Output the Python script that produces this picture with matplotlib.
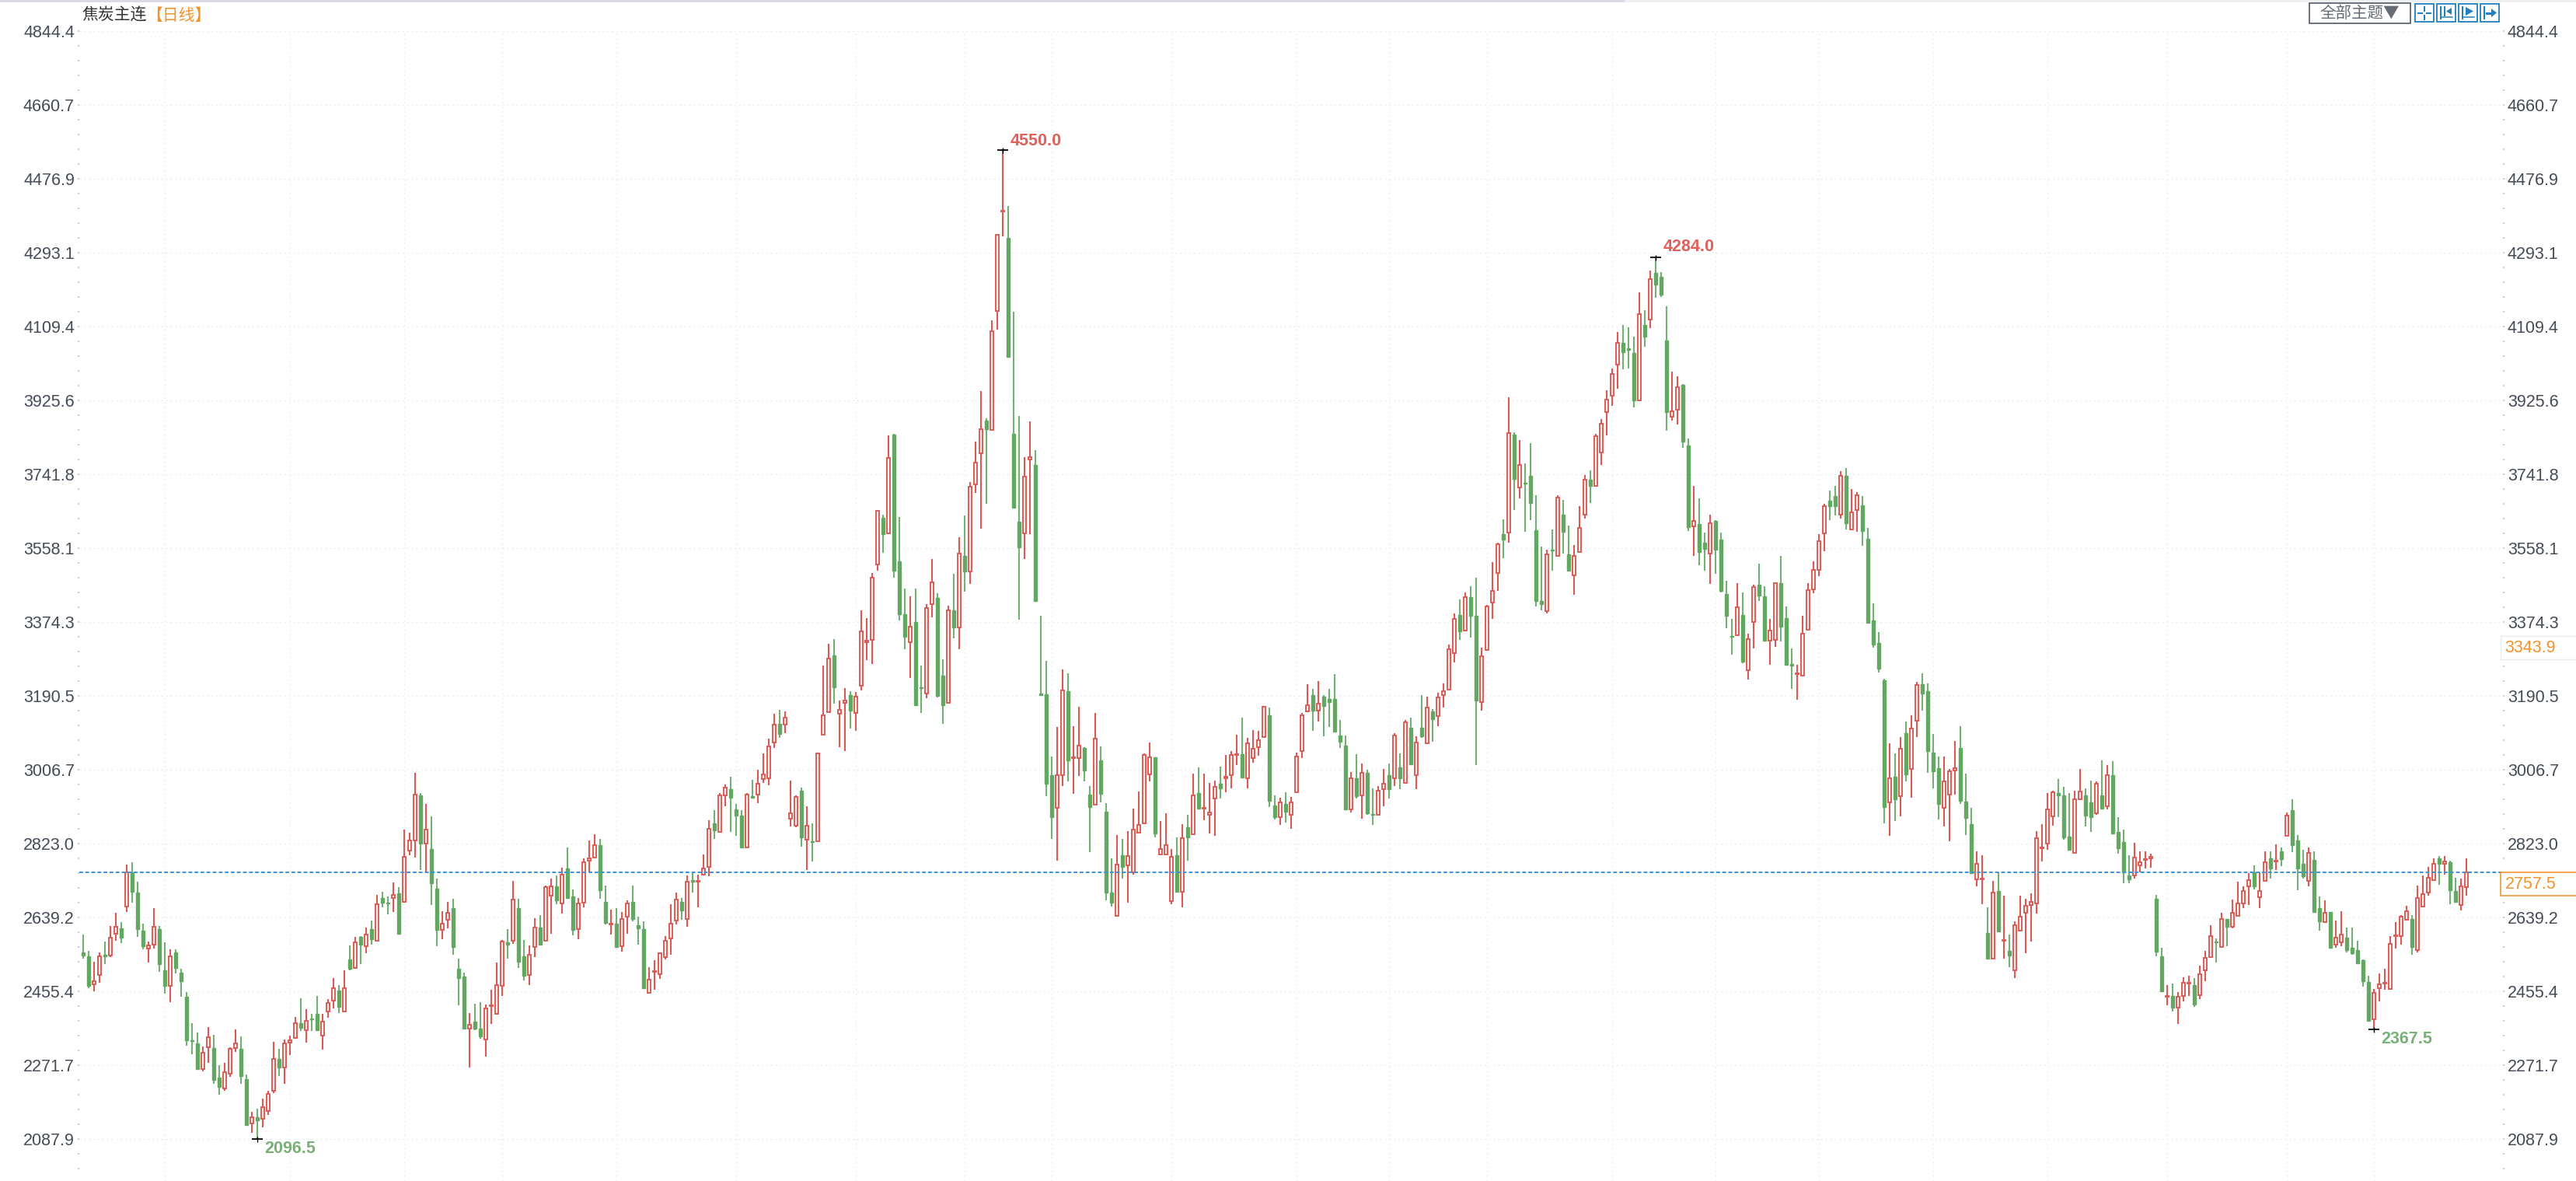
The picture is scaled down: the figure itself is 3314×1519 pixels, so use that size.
import numpy as np
import matplotlib
matplotlib.use("Agg")
import matplotlib.pyplot as plt
from matplotlib.patches import Rectangle, Polygon

plt.rcParams['font.family'] = ['Liberation Sans', 'Noto Sans CJK SC', 'DejaVu Sans']

title_name = "焦炭主连"
title_period = "【日线】"
theme_button = "全部主题▼"

tick_labels = ["4844.4", "4660.7", "4476.9", "4293.1", "4109.4", "3925.6", "3741.8", "3558.1",
               "3374.3", "3190.5", "3006.7", "2823.0", "2639.2", "2455.4", "2271.7", "2087.9"]

directions = ("GGRRGRRGRG" "GGRRGGRGGG" "GGRRGGRRRG" "GRGRRRGRRR" "GRGGRRRGRG" "RGRGRGGRGR"
              "RRGRGGRRGG" "GRGGRRRRGR" "GGRRGRRGRG" "GRRRRGGRGR" "RGGGRRRRRR" "GRGRRRGRRG"
              "GGRGRRRRGR" "RRGRGRRRGR" "RGRRRRRGRG" "GGRGGRRGGR" "GRGRRRGRRR" "GGGRRGGGGR"
              "RGRRGGRGGG" "RGRRRRRGRR" "RGRGRGRRRG" "RRRGRRRRGG" "RGRRRRGRGG" "GGGRGRGGRR"
              "GRGRGRGRGR" "RRRGRGGRRR" "RGRGRGGGGR" "GRGGRRRGRR" "RRRGGGRGRG" "GGRRGGRGGR"
              "GGGGRGRRGG" "RRGGGRRRRR" "RGGRGRRGGG" "GGRGRGRRGG" "GGRRRGGGRR" "GRGRGRRRRR"
              "RRRGGGRRGG" "RGRGGGGRRR" "RGGRGRRRGR" "RRGRGRRRRG" "RRGRGRGGGR" "GGRGRRGGGG"
              "GRRRRRRRGR" "RRRGRGGRR")

high = [
    2603,2563,2536,2558,2586,2624,2657,2634,2776,2783,
    2735,2630,2585,2668,2624,2583,2567,2567,2519,2461,
    2384,2360,2326,2374,2354,2279,2285,2323,2368,2350,
    2255,2163,2171,2197,2215,2337,2320,2343,2352,2398,
    2445,2418,2407,2451,2407,2443,2495,2477,2515,2576,
    2597,2600,2620,2637,2701,2710,2698,2732,2720,2863,
    2856,3005,2955,2927,2897,2742,2662,2684,2692,2543,
    2509,2409,2432,2435,2430,2466,2533,2589,2617,2736,
    2692,2590,2576,2644,2651,2724,2742,2749,2769,2819,
    2715,2694,2792,2837,2853,2840,2725,2665,2668,2659,
    2688,2725,2647,2636,2522,2540,2559,2599,2678,2708,
    2694,2749,2758,2752,2802,2887,2911,2954,2975,2995,
    2927,2911,2954,2988,3012,3053,3089,3151,3161,3157,
    2985,2949,2967,2921,2880,3055,3270,3324,3337,3184,
    3215,3208,3206,3407,3388,3501,3655,3646,3841,3845,
    3639,3462,3442,3462,3270,3424,3535,3450,3286,3419,
    3499,3590,3644,3727,3826,3952,3885,4128,4341,4550,
    4412,4149,3890,3788,3877,3806,3395,3282,3046,3118,
    3262,3252,3120,3168,3069,2972,3154,3070,2929,2792,
    2850,2840,2859,2915,2959,3052,3080,3044,2884,2904,
    2816,2844,2877,2901,3003,3019,3003,2979,2985,3020,
    3049,3059,3100,3141,3091,3111,3108,3171,3167,2948,
    2942,2956,2945,3054,3154,3225,3212,3232,3198,3212,
    3249,3135,3097,3006,3050,3027,3012,2965,2972,3015,
    3027,3102,3053,3136,3141,3096,3198,3194,3163,3203,
    3227,3322,3400,3434,3453,3467,3488,3315,3422,3528,
    3576,3633,3936,3849,3830,3773,3823,3694,3566,3559,
    3609,3693,3681,3619,3569,3667,3744,3755,3845,3883,
    3953,4008,4099,4116,4110,4086,4197,4152,4251,4284,
    4248,4163,4001,3989,3969,3835,3717,3686,3600,3646,
    3632,3600,3482,3387,3475,3453,3350,3471,3523,3468,
    3387,3477,3542,3418,3313,3273,3394,3475,3530,3596,
    3673,3705,3716,3753,3760,3708,3701,3691,3613,3425,
    3353,3238,3077,3053,3094,3131,3148,3230,3251,3226,
    3101,3046,3045,3014,3083,3120,3003,2918,2810,2800,
    2671,2736,2758,2699,2604,2636,2699,2692,2705,2860,
    2877,2954,2961,2990,2969,2954,2961,3015,2965,2985,
    2983,3036,3023,3033,2895,2864,2800,2830,2810,2810,
    2803,2702,2570,2478,2482,2461,2498,2501,2495,2527,
    2562,2626,2593,2657,2642,2691,2734,2722,2755,2774,
    2758,2810,2810,2827,2819,2907,2938,2850,2813,2819,
    2810,2698,2688,2660,2637,2662,2620,2620,2587,2541,
    2501,2468,2506,2519,2599,2634,2652,2675,2651,2724,
    2749,2772,2792,2799,2799,2786,2744,2742,2792]

body_top = [
    2559,2550,2488,2549,2553,2595,2622,2619,2758,2758,
    2707,2613,2576,2622,2617,2514,2549,2559,2509,2448,
    2341,2333,2310,2349,2322,2248,2262,2320,2333,2320,
    2245,2150,2150,2174,2208,2295,2295,2333,2340,2383,
    2383,2389,2394,2407,2387,2434,2471,2465,2471,2542,
    2583,2597,2603,2617,2678,2693,2683,2701,2705,2796,
    2836,2951,2949,2863,2815,2718,2630,2657,2668,2519,
    2499,2380,2387,2369,2419,2428,2478,2585,2583,2691,
    2668,2549,2553,2620,2620,2720,2722,2722,2752,2768,
    2697,2681,2782,2792,2826,2826,2684,2631,2630,2641,
    2681,2684,2626,2617,2491,2512,2557,2587,2630,2691,
    2684,2734,2738,2736,2768,2866,2880,2948,2967,2964,
    2914,2898,2951,2947,2978,3001,3071,3124,3127,3142,
    2904,2945,2961,2873,2835,3052,3147,3289,3296,3161,
    3184,3198,3194,3355,3332,3489,3654,3637,3786,3843,
    3530,3398,3368,3378,3217,3414,3478,3439,3245,3407,
    3407,3548,3543,3715,3775,3858,3878,4101,4340,4400,
    4332,3845,3627,3739,3788,3769,3201,3199,2999,2999,
    3210,3208,3043,3072,3066,2951,3090,3036,2908,2708,
    2776,2800,2799,2863,2876,3049,3043,3043,2815,2826,
    2797,2800,2843,2870,2948,2954,2918,2907,2969,2978,
    2994,3049,3051,3050,3077,3065,3086,3169,3147,2924,
    2932,2927,2931,3046,3147,3173,3198,3176,3194,3187,
    3188,3097,3072,2992,2992,3005,3005,2903,2961,2977,
    2998,3097,3019,3129,3117,3079,3117,3167,3157,3192,
    3207,3312,3387,3396,3441,3441,3394,3293,3417,3456,
    3571,3597,3847,3843,3768,3725,3742,3607,3430,3547,
    3559,3688,3646,3547,3542,3612,3731,3731,3840,3871,
    3931,3995,4072,4072,4058,4046,4142,4116,4230,4245,
    4235,4078,3902,3962,3967,3816,3629,3622,3576,3624,
    3629,3583,3448,3345,3415,3396,3336,3465,3471,3443,
    3357,3475,3475,3388,3275,3251,3350,3458,3508,3579,
    3667,3680,3691,3742,3742,3650,3694,3669,3586,3383,
    3326,3234,2991,2995,3065,3103,3115,3223,3224,3208,
    3055,3017,2984,3008,3017,3066,2934,2877,2779,2742,
    2607,2708,2712,2590,2563,2626,2648,2675,2684,2843,
    2819,2914,2956,2954,2948,2847,2938,2958,2948,2931,
    2978,2948,2999,2999,2857,2833,2749,2795,2782,2790,
    2796,2692,2550,2451,2451,2448,2483,2484,2478,2505,
    2546,2599,2586,2641,2641,2657,2681,2712,2738,2758,
    2711,2782,2792,2786,2810,2898,2911,2837,2779,2806,
    2788,2668,2657,2659,2596,2603,2596,2570,2565,2540,
    2485,2458,2479,2484,2580,2601,2648,2661,2641,2694,
    2704,2745,2779,2792,2785,2783,2711,2722,2757.5]

body_bottom = [
    2551,2475,2480,2502,2550,2551,2606,2595,2673,2710,
    2616,2574,2568,2578,2530,2476,2476,2521,2487,2341,
    2338,2269,2269,2324,2243,2226,2221,2257,2321,2253,
    2131,2134,2142,2146,2165,2215,2274,2274,2335,2346,
    2372,2365,2392,2365,2353,2412,2439,2423,2412,2519,
    2521,2578,2575,2592,2588,2682,2681,2693,2605,2685,
    2812,2836,2829,2829,2731,2615,2615,2639,2572,2495,
    2370,2369,2370,2351,2342,2426,2406,2475,2578,2587,
    2535,2501,2502,2573,2578,2588,2700,2689,2680,2694,
    2615,2617,2683,2787,2795,2713,2632,2628,2572,2575,
    2647,2641,2619,2471,2459,2510,2504,2547,2593,2638,
    2663,2642,2734,2734,2751,2771,2861,2858,2949,2943,
    2898,2819,2819,2943,2950,2990,2991,3079,3101,3124,
    2891,2874,2845,2839,2832,2835,3099,3156,3217,3151,
    3178,3159,3153,3220,3329,3334,3521,3596,3599,3506,
    3398,3343,3329,3173,3215,3201,3424,3196,3173,3178,
    3365,3366,3504,3504,3720,3798,3858,3855,4151,4397,
    4037,3663,3565,3599,3782,3430,3198,2977,2895,2917,
    2998,3035,3041,3041,3011,2919,2925,2953,2707,2682,
    2650,2771,2774,2758,2856,2879,3001,2855,2801,2802,
    2686,2710,2710,2845,2853,2915,2916,2900,2940,2966,
    2991,2998,3048,2993,2991,3041,3068,3093,2936,2895,
    2895,2909,2900,2957,3059,3157,3159,3159,3170,3180,
    3106,3081,2913,2913,2947,2948,2905,2900,2900,2964,
    2964,2992,2991,2980,3025,2998,3096,3078,3138,3146,
    3197,3211,3302,3355,3357,3394,3184,3180,3309,3427,
    3501,3584,3600,3734,3712,3722,3675,3430,3424,3405,
    3556,3542,3603,3507,3494,3552,3646,3717,3717,3799,
    3899,3941,4017,4048,4055,3929,3928,4087,4130,4216,
    4192,3899,3888,3905,3827,3614,3616,3552,3561,3549,
    3559,3456,3395,3343,3347,3280,3260,3379,3445,3332,
    3332,3335,3368,3273,3271,3250,3245,3359,3460,3508,
    3599,3667,3667,3646,3624,3609,3656,3605,3376,3323,
    3264,2920,2931,2939,2947,3000,3015,3133,3202,3058,
    3008,2927,2917,2950,3010,2935,2892,2756,2740,2740,
    2544,2544,2610,2588,2551,2515,2612,2657,2677,2680,
    2817,2829,2897,2949,2845,2814,2805,2938,2899,2895,
    2905,2916,2922,2855,2817,2758,2740,2750,2774,2788,
    2792,2561,2462,2449,2422,2422,2450,2482,2430,2453,
    2514,2548,2583,2572,2623,2622,2650,2680,2723,2723,
    2696,2737,2767,2785,2790,2848,2825,2767,2747,2737,
    2660,2636,2634,2570,2578,2583,2564,2557,2532,2487,
    2390,2393,2470,2482,2469,2599,2599,2639,2572,2565,
    2673,2707,2739,2778,2779,2713,2684,2676,2720]

low = [
    2544,2470,2462,2484,2530,2548,2588,2582,2659,2683,
    2598,2567,2533,2568,2511,2456,2436,2507,2449,2328,
    2307,2267,2263,2284,2233,2206,2216,2250,2311,2233,
    2128,2111,2096.5,2125,2155,2209,2253,2233,2304,2345,
    2364,2335,2364,2364,2318,2396,2419,2409,2412,2514,
    2521,2530,2557,2578,2588,2670,2653,2659,2605,2683,
    2800,2794,2763,2758,2676,2575,2591,2619,2554,2427,
    2369,2274,2366,2345,2301,2382,2405,2450,2544,2581,
    2520,2490,2477,2548,2578,2588,2605,2678,2655,2692,
    2602,2591,2670,2758,2794,2692,2629,2604,2572,2561,
    2605,2636,2578,2470,2457,2467,2493,2541,2554,2628,
    2639,2622,2707,2670,2749,2747,2841,2858,2922,2858,
    2848,2818,2818,2943,2929,2979,2974,3067,3091,3102,
    2871,2869,2821,2763,2784,2835,3099,3156,3176,3068,
    3058,3115,3109,3210,3284,3275,3506,3550,3597,3489,
    3383,3312,3240,3171,3153,3189,3390,3191,3127,3176,
    3338,3312,3454,3473,3700,3611,3673,3855,4104,4335,
    4037,3661,3385,3535,3596,3430,3198,2947,2841,2787,
    2971,2983,2953,2996,2983,2808,2925,2932,2689,2673,
    2650,2742,2682,2752,2856,2879,2983,2845,2801,2802,
    2679,2710,2670,2787,2852,2913,2886,2855,2848,2940,
    2956,2966,3024,2992,2966,3030,3047,3091,2919,2888,
    2875,2882,2866,2956,3041,3155,3109,3131,3095,3118,
    3104,3067,2913,2906,2940,2890,2900,2876,2900,2922,
    2940,2971,2964,2980,3024,2964,3091,3078,3082,3120,
    3166,3209,3278,3334,3355,3341,3024,3158,3307,3386,
    3456,3537,3576,3656,3686,3602,3632,3417,3408,3401,
    3507,3542,3549,3504,3446,3552,3636,3675,3717,3768,
    3842,3915,3957,4005,4008,3912,3928,4061,4109,4183,
    4185,3854,3878,3869,3811,3605,3542,3520,3507,3473,
    3499,3453,3363,3298,3344,3276,3237,3314,3430,3332,
    3273,3318,3331,3273,3213,3185,3245,3359,3450,3493,
    3555,3632,3643,3636,3609,3606,3602,3568,3375,3316,
    3253,2879,2848,2885,2896,2983,2943,3094,3158,3004,
    2966,2888,2871,2834,2950,2928,2851,2754,2723,2679,
    2544,2544,2610,2544,2523,2496,2612,2557,2585,2655,
    2784,2814,2874,2895,2839,2814,2805,2938,2872,2858,
    2900,2916,2913,2855,2803,2731,2731,2743,2757,2768,
    2770,2550,2460,2428,2413,2382,2437,2450,2424,2443,
    2487,2548,2534,2572,2575,2618,2649,2669,2677,2716,
    2668,2737,2743,2763,2773,2848,2808,2713,2743,2723,
    2660,2612,2633,2570,2570,2575,2558,2554,2532,2474,
    2388,2367.5,2437,2466,2467,2569,2578,2637,2554,2559,
    2673,2700,2737,2726,2751,2679,2684,2663,2700]

last_price = 2757.5
last_label = "2757.5"
side_label_value = 3343.9
side_label = "3343.9"
grid_candles = [-1, 15, 38, 59, 77, 98, 120, 142, 162, 178, 200, 223, 240, 258, 281, 300, 319, 340, 361, 383, 405, 421]
extremes = [(169, 4550.0, "4550.0", "#E0605C", 9, 12),
            (289, 4284.0, "4284.0", "#E0605C", 9, 13),
            (32, 2096.5, "2096.5", "#78B078", 9, -13),
            (421, 2367.5, "2367.5", "#78B078", 9, -12)]

W, H = 3314, 1519
RED, RED_FILL, GREEN, GREEN_WICK = "#DB5A55", "#FFF1EC", "#62A862", "#74B074"
LABEL = "#454B57"
ORANGE = "#F2922B"
BLUE = "#3F93D6"
px = 72 / 100.0

# Axis geometry: candle slots are 7 px wide; price scale is 0.5183 px per unit
X0, STEP = 107.3, 7.0
L, R = 102, 3220
PRICE_AT_TOP, PRICE_AT_BOTTOM = 4922.4, 1991.6

fig = plt.figure(figsize=(W / 100, H / 100), dpi=100, facecolor="white")
ax = fig.add_axes([L / W, 0, (R - L) / W, 1])
ax.set_xlim((L - X0) / STEP, (R - X0) / STEP)
ax.set_ylim(PRICE_AT_BOTTOM, PRICE_AT_TOP)
ax.set_facecolor("white")
for s in ax.spines.values():
    s.set_visible(False)

high, low = np.array(high, float), np.array(low, float)
body_top, body_bottom = np.array(body_top, float), np.array(body_bottom, float)
idx = np.arange(len(high))
is_up = np.array([d == "R" for d in directions])

# grid
tick_pos = np.linspace(4845.2, 2095.9, len(tick_labels))
minor_step = (tick_pos[0] - tick_pos[1]) / 5
minor_pos = tick_pos[-1] + minor_step * np.arange(-5, 81)
minor_pos = minor_pos[(minor_pos < tick_pos[0]) & (minor_pos > PRICE_AT_BOTTOM)]
ax.hlines(tick_pos, ax.get_xlim()[0], ax.get_xlim()[1], colors="#E9EBEF", lw=1.3 * px,
          linestyles=(0, (1.5, 3)), zorder=1)
ax.vlines(grid_candles, PRICE_AT_BOTTOM, tick_pos[0], colors="#ECEEF1", lw=1.3 * px,
          linestyles=(0, (1.5, 3)), zorder=1)

# axis ticks
ax.set_xticks([])
ax.set_yticks(tick_pos, tick_labels)
ax.set_yticks(minor_pos, minor=True)
ax.tick_params(axis="y", which="both", left=True, right=True, labelleft=True, labelright=True,
               length=2 * px, width=1.5 * px, color="#BDBFC5", pad=4 * px)
ax.tick_params(axis="y", which="major", labelsize=15.5, labelcolor=LABEL)

# candles
ax.vlines(idx[~is_up], low[~is_up], high[~is_up], colors=GREEN_WICK, lw=2.1 * px, zorder=3)
ax.vlines(idx[is_up], low[is_up], high[is_up], colors=RED, lw=2.1 * px, zorder=3)
ax.bar(idx[~is_up], (body_top - body_bottom)[~is_up], bottom=body_bottom[~is_up], width=0.62,
       color=GREEN, edgecolor=GREEN, lw=1.4 * px, zorder=4)
ax.bar(idx[is_up], (body_top - body_bottom)[is_up], bottom=body_bottom[is_up], width=0.62,
       color=RED_FILL, edgecolor=RED, lw=1.9 * px, zorder=4)

# last price line
ax.axhline(last_price, color=BLUE, lw=2.0 * px, linestyle=(0, (2.4, 1.5)), zorder=5)

# extreme markers and labels
for i, v, txt, col, dx, dy in extremes:
    ax.plot([i], [v], marker="_", ms=14 * px, mew=1.8 * px, color="black", zorder=6)
    ax.plot([i], [v], marker="|", ms=7 * px, mew=1.4 * px, color="black", zorder=6)
    ax.annotate(txt, (i, v), xytext=(dx * px, dy * px), textcoords="offset points", color=col,
                fontsize=15.5, fontweight="bold", va="center", ha="left", zorder=7)

# page chrome in pixel coordinates
ov = fig.add_axes([0, 0, 1, 1], facecolor="none")
ov.set_xlim(0, W)
ov.set_ylim(H, 0)
ov.axis("off")
ov.add_patch(Rectangle((0, 0), 2090, 2.5, fc="#DADBE3", ec="none"))
ov.add_patch(Rectangle((2090, 0), W - 2090, 2.5, fc="#EEEEF3", ec="none"))
ov.text(105, 20, title_name, color="#333333", fontsize=15, va="center", ha="left",
        family=["Noto Sans CJK SC", "DejaVu Sans"])
ov.text(188, 20, title_period, color=ORANGE, fontsize=15, va="center", ha="left",
        family=["Noto Sans CJK SC", "DejaVu Sans"])

# price flags: box top sits on the price, text inside the box
flag_px = ax.transData.transform([(0, last_price), (0, side_label_value)])[:, 1]
flag_y = H - flag_px
ov.add_patch(Rectangle((3217, flag_y[1]), W - 3217 + 5, 30, fc="white", ec="#E6ECF3", lw=1.4 * px, zorder=8))
ov.text(3222, flag_y[1] + 15, side_label, color=ORANGE, fontsize=15.5, va="center", ha="left", zorder=9)
ov.add_patch(Rectangle((3217, flag_y[0]), W - 3217 + 5, 30, fc="white", ec=ORANGE, lw=1.6 * px, zorder=8))
ov.text(3223, flag_y[0] + 15, last_label, color=ORANGE, fontsize=15.5, va="center", ha="left", zorder=9)

ov.add_patch(Rectangle((2971, 3.5), 130, 26, fc="white", ec="#5F6670", lw=1.8 * px))
ov.text(3036, 17, theme_button, color="#666C75", fontsize=14.8, va="center", ha="center",
        family=["Noto Sans CJK SC", "DejaVu Sans"])

ICON = "#1F7FC0"
for k, x in enumerate([3107, 3135, 3163, 3191]):
    ov.add_patch(Rectangle((x, 5), 24, 23, fc="white", ec=ICON, lw=1.8 * px))
    cx, cy = x + 12, 16.5
    if k == 0:
        ov.plot([cx - 8, cx - 3], [cy, cy], color=ICON, lw=2 * px)
        ov.plot([cx + 3, cx + 8], [cy, cy], color=ICON, lw=2 * px)
        ov.plot([cx, cx], [cy - 8, cy - 3], color=ICON, lw=2 * px)
        ov.plot([cx, cx], [cy + 3, cy + 8], color=ICON, lw=2 * px)
    elif k == 1:
        ov.plot([x + 5, x + 5], [9, 24], color=ICON, lw=2 * px)
        ov.plot([x + 5, x + 20], [22, 22], color=ICON, lw=1.5 * px)
        ov.plot([x + 10, x + 10], [9, 20], color=ICON, lw=2 * px)
        ov.add_patch(Polygon([[x + 19, 10], [x + 19, 19], [x + 12, 14.5]], fc=ICON, ec="none"))
    elif k == 2:
        ov.plot([x + 5, x + 5], [9, 24], color=ICON, lw=2 * px)
        ov.plot([x + 5, x + 20], [22, 22], color=ICON, lw=1.5 * px)
        ov.add_patch(Polygon([[x + 9, 9], [x + 9, 20], [x + 19, 14.5]], fc=ICON, ec="none"))
    else:
        ov.plot([x + 5, x + 5], [9, 24], color=ICON, lw=2 * px)
        ov.plot([x + 8, x + 15], [16.5, 16.5], color=ICON, lw=3 * px)
        ov.add_patch(Polygon([[x + 14, 11], [x + 14, 22], [x + 21, 16.5]], fc=ICON, ec="none"))

fig.savefig("out.png", dpi=100, facecolor="white")
